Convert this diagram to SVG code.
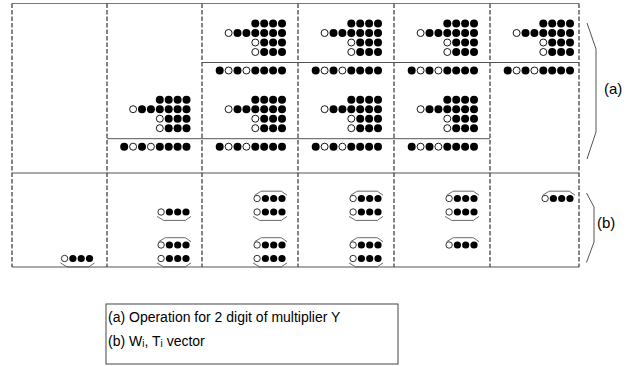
<svg xmlns="http://www.w3.org/2000/svg" xmlns:xlink="http://www.w3.org/1999/xlink" width="633" height="366" viewBox="0 0 633 366">
  <style>
    .b { fill: #000; }
    .w { fill: #fff; stroke: #000; stroke-width: 0.9; }
    .vb { fill: #000; }
    .vw { fill: #fff; stroke: #000; stroke-width: 0.8; }
    .grid { stroke: #333; stroke-width: 1.2; stroke-dasharray: 4.5 2; fill: none; }
    .rule { stroke: #555; stroke-width: 1; fill: none; }
    .edge { stroke: #777; stroke-width: 1.2; fill: none; }
    .brk { stroke: #444; stroke-width: 0.8; fill: none; }
    .brace { stroke: #555; stroke-width: 1; fill: none; }
    .lbl { font-family: "Liberation Sans", Arial, sans-serif; font-size: 15px; fill: #000; }
    .txt { font-family: "Liberation Sans", Arial, sans-serif; font-size: 14px; fill: #000; }
  </style>
  <defs>
    <!-- partial-product block; origin = rightmost dot column, on the rule line -->
    <g id="blk">
      <circle class="b" cx="0" cy="-39" r="4"/><circle class="b" cx="-8.9" cy="-39" r="4"/><circle class="b" cx="-17.8" cy="-39" r="4"/><circle class="b" cx="-26.7" cy="-39" r="4"/>
      <circle class="b" cx="0" cy="-29.5" r="4"/><circle class="b" cx="-8.9" cy="-29.5" r="4"/><circle class="b" cx="-17.8" cy="-29.5" r="4"/><circle class="b" cx="-26.7" cy="-29.5" r="4"/><circle class="b" cx="-35.6" cy="-29.5" r="4"/><circle class="b" cx="-44.5" cy="-29.5" r="4"/><circle class="w" cx="-53.4" cy="-29.5" r="3.5"/>
      <circle class="b" cx="0" cy="-20" r="4"/><circle class="b" cx="-8.9" cy="-20" r="4"/><circle class="b" cx="-17.8" cy="-20" r="4"/><circle class="w" cx="-26.7" cy="-20" r="3.5"/>
      <circle class="b" cx="0" cy="-10.5" r="4"/><circle class="b" cx="-8.9" cy="-10.5" r="4"/><circle class="b" cx="-17.8" cy="-10.5" r="4"/><circle class="w" cx="-26.7" cy="-10.5" r="3.5"/>
      <circle class="b" cx="0" cy="8" r="4"/><circle class="b" cx="-8.9" cy="8" r="4"/><circle class="b" cx="-17.8" cy="8" r="4"/><circle class="b" cx="-26.7" cy="8" r="4"/><circle class="w" cx="-35.6" cy="8" r="3.5"/><circle class="b" cx="-44.5" cy="8" r="4"/><circle class="w" cx="-53.4" cy="8" r="3.5"/><circle class="b" cx="-62.3" cy="8" r="4"/>
    </g>
    <!-- 4-digit vector; origin = rightmost dot -->
    <g id="vec">
      <circle class="vb" cx="0" cy="0" r="3.6"/><circle class="vb" cx="-8.3" cy="0" r="3.6"/><circle class="vb" cx="-16.6" cy="0" r="3.6"/><circle class="vw" cx="-24.9" cy="0" r="3.2"/>
    </g>
    <polyline id="capT" class="brk" points="-27.4,-3.3 -20.7,-7.3 -0.7,-7.3 5,-3.3"/>
    <polyline id="capB" class="brk" points="-29,4.4 -22.4,8.4 -0.7,8.4 5,4.4"/>
  </defs>

  <!-- frame: column dividers and horizontal rules -->
  <g id="frame">
    <line class="edge" x1="12" y1="3.5" x2="579" y2="3.5"/>
    <line class="grid" x1="12" y1="3.5" x2="12" y2="267"/>
    <line class="grid" x1="107" y1="3.5" x2="107" y2="267"/>
    <line class="grid" x1="202" y1="3.5" x2="202" y2="267"/>
    <line class="grid" x1="298" y1="3.5" x2="298" y2="267"/>
    <line class="grid" x1="394" y1="3.5" x2="394" y2="267"/>
    <line class="grid" x1="490" y1="3.5" x2="490" y2="267"/>
    <line class="grid" x1="579" y1="3.5" x2="579" y2="267"/>
    <line class="rule" x1="202" y1="62.5" x2="579" y2="62.5"/>
    <line class="rule" x1="107" y1="138.7" x2="490" y2="138.7"/>
    <line class="rule" x1="12" y1="173" x2="579" y2="173"/>
    <line class="rule" x1="12" y1="267" x2="579" y2="267"/>
  </g>

  <!-- (a) partial-product blocks per column -->
  <g id="col2-a"><use xlink:href="#blk" x="186.5" y="138.7"/></g>
  <g id="col3-a"><use xlink:href="#blk" x="282" y="62.5"/><use xlink:href="#blk" x="282" y="138.7"/></g>
  <g id="col4-a"><use xlink:href="#blk" x="378" y="62.5"/><use xlink:href="#blk" x="378" y="138.7"/></g>
  <g id="col5-a"><use xlink:href="#blk" x="474" y="62.5"/><use xlink:href="#blk" x="474" y="138.7"/></g>
  <g id="col6-a"><use xlink:href="#blk" x="570" y="62.5"/></g>

  <!-- (b) W/T vectors per column -->
  <g id="col1-b">
    <use xlink:href="#vec" x="89.5" y="258.5"/><use xlink:href="#capB" x="89.5" y="258.5"/>
  </g>
  <g id="col2-b">
    <use xlink:href="#vec" x="186" y="212"/><use xlink:href="#capB" x="186" y="212"/>
    <use xlink:href="#vec" x="186" y="245"/><use xlink:href="#capT" x="186" y="245"/>
    <use xlink:href="#vec" x="186" y="258.5"/><use xlink:href="#capB" x="186" y="258.5"/>
  </g>
  <g id="col3-b">
    <use xlink:href="#vec" x="282" y="198.5"/><use xlink:href="#capT" x="282" y="198.5"/>
    <use xlink:href="#vec" x="282" y="212"/><use xlink:href="#capB" x="282" y="212"/>
    <use xlink:href="#vec" x="282" y="245"/><use xlink:href="#capT" x="282" y="245"/>
    <use xlink:href="#vec" x="282" y="258.5"/><use xlink:href="#capB" x="282" y="258.5"/>
  </g>
  <g id="col4-b">
    <use xlink:href="#vec" x="378" y="198.5"/><use xlink:href="#capT" x="378" y="198.5"/>
    <use xlink:href="#vec" x="378" y="212"/><use xlink:href="#capB" x="378" y="212"/>
    <use xlink:href="#vec" x="378" y="245"/><use xlink:href="#capT" x="378" y="245"/>
    <use xlink:href="#vec" x="378" y="258.5"/><use xlink:href="#capB" x="378" y="258.5"/>
  </g>
  <g id="col5-b">
    <use xlink:href="#vec" x="474" y="198.5"/><use xlink:href="#capT" x="474" y="198.5"/>
    <use xlink:href="#vec" x="474" y="212"/><use xlink:href="#capB" x="474" y="212"/>
    <use xlink:href="#vec" x="474" y="245"/><use xlink:href="#capT" x="474" y="245"/>
  </g>
  <g id="col6-b">
    <use xlink:href="#vec" x="570" y="198.5"/><use xlink:href="#capT" x="570" y="198.5"/>
  </g>

  <!-- section braces and labels -->
  <g id="brace-a">
    <polyline class="brace" points="587,23 596,49 596,132 587,159"/>
    <text class="lbl" x="604" y="94">(a)</text>
  </g>
  <g id="brace-b">
    <polyline class="brace" points="586.5,193 594,207 594,242 586.5,262.5"/>
    <text class="lbl" x="597" y="228">(b)</text>
  </g>

  <!-- legend -->
  <g id="legend">
    <rect x="106" y="304" width="292" height="60" fill="#fff" stroke="#444" stroke-width="1"/>
    <text class="txt" x="108" y="322">(a) Operation for 2 digit of multiplier Y</text>
    <text class="txt" x="108" y="346">(b) W<tspan font-size="10" dy="1">i</tspan><tspan dy="-1">, T</tspan><tspan font-size="10" dy="1">i</tspan><tspan dy="-1"> vector</tspan></text>
  </g>
</svg>
